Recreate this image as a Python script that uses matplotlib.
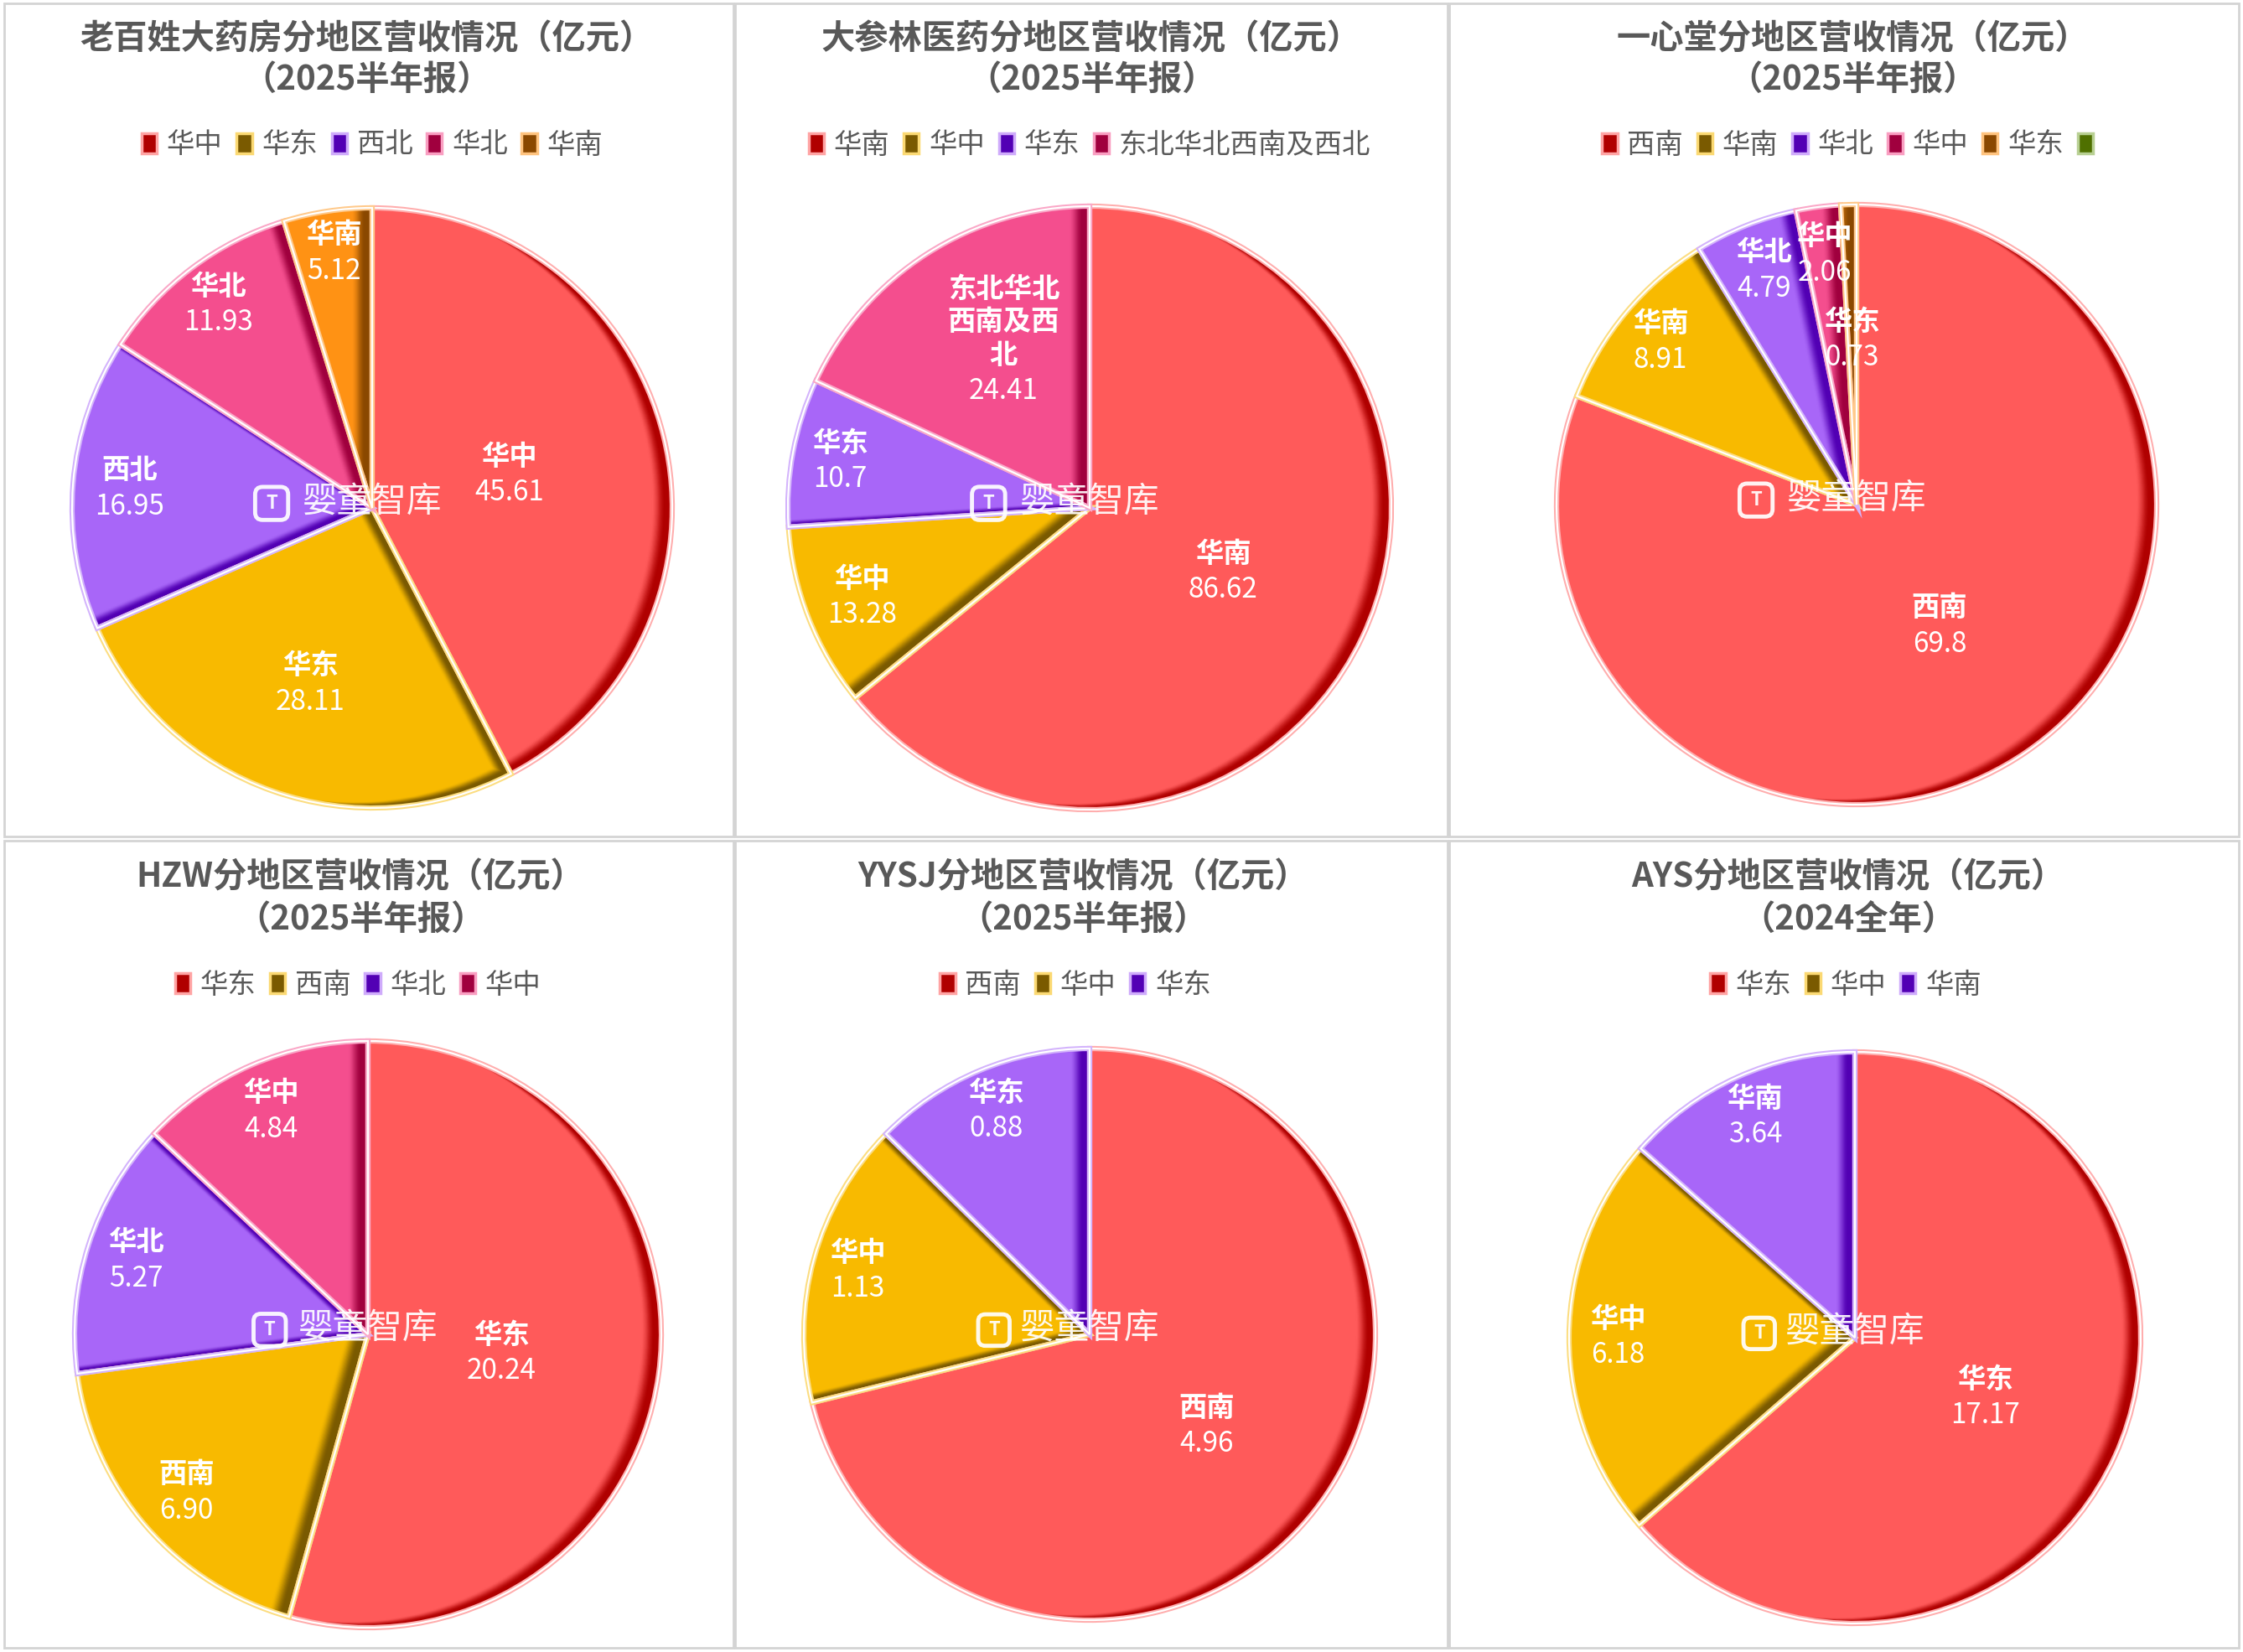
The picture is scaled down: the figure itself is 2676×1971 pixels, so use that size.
import matplotlib.pyplot as plt
import numpy as np
from matplotlib.patches import Wedge, Patch, Rectangle, FancyBboxPatch
from matplotlib.colors import to_rgb

plt.rcParams['font.family'] = ['Noto Sans CJK SC', 'DejaVu Sans']

W, H = 2676, 1971

# ---- data (亿元) ----
lbx_regions = ['华中', '华东', '西北', '华北', '华南']
lbx_values = [45.61, 28.11, 16.95, 11.93, 5.12]

dsl_regions = ['华南', '华中', '华东', '东北华北西南及西北']
dsl_values = [86.62, 13.28, 10.7, 24.41]

yxt_regions = ['西南', '华南', '华北', '华中', '华东', '']
yxt_values = [69.8, 8.91, 4.79, 2.06, 0.73, 0]

hzw_regions = ['华东', '西南', '华北', '华中']
hzw_values = [20.24, 6.90, 5.27, 4.84]

yysj_regions = ['西南', '华中', '华东']
yysj_values = [4.96, 1.13, 0.88]

ays_regions = ['华东', '华中', '华南']
ays_values = [17.17, 6.18, 3.64]

titles = [
    ('老百姓大药房分地区营收情况（亿元）', '（2025半年报）'),
    ('大参林医药分地区营收情况（亿元）', '（2025半年报）'),
    ('一心堂分地区营收情况（亿元）', '（2025半年报）'),
    ('HZW分地区营收情况（亿元）', '（2025半年报）'),
    ('YYSJ分地区营收情况（亿元）', '（2025半年报）'),
    ('AYS分地区营收情况（亿元）', '（2024全年）'),
]

# slice colours (fill, bevel shade)
fills = ['#FF5A5A', '#F8BA00', '#A866F8', '#F44E8E', '#FF9214', '#7DAA3A']
darks = ['#B00000', '#7A5A00', '#5200B4', '#A0003E', '#8A4800', '#4F7000']

# layout in pixels: pie centre, radius, title centre x, legend centre x, row
charts = [
    dict(regions=lbx_regions, values=lbx_values, fmt='{:g}',
         cx=444, cy=606, r=358, tx=437, lx=444, row=0,
         lab_r=[0.47, 0.62, 0.81, 0.85, 0.86]),
    dict(regions=dsl_regions, values=dsl_values, fmt='{:g}',
         cx=1300, cy=606, r=360, tx=1302, lx=1300, row=0,
         lab_r=[0.49, 0.81, 0.84, 0.53]),
    dict(regions=yxt_regions, values=yxt_values, fmt='{:g}',
         cx=2215, cy=602, r=358, tx=2210, lx=2210, row=0,
         lab_r=[0.49, 0.85, 0.84, 0.84, 0.55, 0.5]),
    dict(regions=hzw_regions, values=hzw_values, fmt='{:.2f}',
         cx=439, cy=1592, r=350, tx=430, lx=427, row=1,
         lab_r=[0.46, 0.82, 0.83, 0.83]),
    dict(regions=yysj_regions, values=yysj_values, fmt='{:g}',
         cx=1300, cy=1592, r=341, tx=1292, lx=1283, row=1,
         lab_r=[0.52, 0.84, 0.85]),
    dict(regions=ays_regions, values=ays_values, fmt='{:g}',
         cx=2213, cy=1596, r=341, tx=2205, lx=2202, row=1,
         lab_r=[0.5, 0.83, 0.85]),
]
label_wrap = {'东北华北西南及西北': '东北华北\n西南及西\n北'}

title_y = [(47, 95), (1047, 1097)]
legend_y = [173, 1175]
grey = '#595959'


def blend(c1, c2, t):
    a, b = np.array(to_rgb(c1)), np.array(to_rgb(c2))
    return tuple(a + (b - a) * t)


fig = plt.figure(figsize=(W / 100, H / 100), dpi=100)
fig.patch.set_facecolor('white')

# panel frames
for (x0, y0, x1, y1) in [(5, 4, 875, 998), (877, 4, 1727, 998), (1729, 4, 2671, 998),
                         (5, 1003, 875, 1966), (877, 1003, 1727, 1966), (1729, 1003, 2671, 1966)]:
    fig.add_artist(Rectangle((x0 / W, 1 - y1 / H), (x1 - x0) / W, (y1 - y0) / H,
                             transform=fig.transFigure, fill=False,
                             ec='#D4D4D4', lw=2))

for i, c in enumerate(charts):
    n = len(c['values'])
    fc = fills[:n]
    dc = darks[:n]
    pad = 1.12
    ax = fig.add_axes([(c['cx'] - pad * c['r']) / W, 1 - (c['cy'] + pad * c['r']) / H,
                       2 * pad * c['r'] / W, 2 * pad * c['r'] / H])
    wedges, _ = ax.pie(c['values'], colors=dc, startangle=90, counterclock=False,
                       radius=1, wedgeprops=dict(lw=0))
    ax.set_xlim(-pad, pad)
    ax.set_ylim(-pad, pad)
    ax.axis('off')

    for k, w in enumerate(wedges):
        if w.theta2 - w.theta1 <= 0.01:
            continue
        # bevel: shifted copies clipped to the slice, dark on right-facing edges
        steps = 14
        for s in range(1, steps + 1):
            t = s / steps
            off = 0.022 + 0.045 * t
            tt = 3 * t ** 2 - 2 * t ** 3
            layer = Wedge((-off, off * 0.3), 1, w.theta1, w.theta2,
                          facecolor=blend(dc[k], fc[k], tt), lw=0)
            ax.add_patch(layer)
            layer.set_clip_path(w)
        ax.add_patch(Wedge((0, 0), 1, w.theta1, w.theta2, fill=False,
                           ec=blend(fc[k], 'white', 0.5), lw=4.5))
        ax.add_patch(Wedge((0, 0), 1, w.theta1, w.theta2, fill=False,
                           ec='white', lw=1.6))

    # data labels
    for k, w in enumerate(wedges):
        if c['values'][k] == 0:
            continue
        mid = np.deg2rad((w.theta1 + w.theta2) / 2)
        rr = c['lab_r'][k]
        x, y = rr * np.cos(mid), rr * np.sin(mid)
        name = label_wrap.get(c['regions'][k], c['regions'][k])
        ax.text(x, y + 0.012, name, ha='center', va='bottom', color='white',
                fontsize=24, fontweight='bold', linespacing=1.25, zorder=12)
        ax.text(x, y - 0.012, c['fmt'].format(c['values'][k]), ha='center', va='top',
                color='white', fontsize=24, zorder=12)

    # watermark
    ax.text(0.0, 0.02, '婴童智库', ha='center', va='center', color='white',
            fontsize=30, fontweight='medium', alpha=0.93, zorder=11)
    ax.add_patch(FancyBboxPatch((-0.39, -0.04), 0.11, 0.11,
                                boxstyle='round,pad=0,rounding_size=0.025',
                                fc='none', ec='white', lw=3.5, alpha=0.93, zorder=11))
    ax.text(-0.335, 0.015, 'T', ha='center', va='center', color='white',
            fontsize=16, fontweight='bold', alpha=0.93, zorder=11)

    # titles
    row = c['row']
    for line, ty in zip(titles[i], title_y[row]):
        fig.text(c['tx'] / W, 1 - ty / H, line, ha='center', va='center',
                 fontsize=29, fontweight='bold', color=grey)

    # legend
    handles = [Patch(facecolor=dc[k], edgecolor=blend(fc[k], 'white', 0.45), lw=2.5)
               for k in range(n)]
    fig.legend(handles, c['regions'], loc='center',
               bbox_to_anchor=(c['lx'] / W, 1 - legend_y[row] / H),
               ncol=n, frameon=False, fontsize=24, labelcolor=grey,
               handlelength=0.55, handleheight=0.75, handletextpad=0.35,
               columnspacing=0.5)

fig.savefig('out.png', dpi=100, facecolor='white')
